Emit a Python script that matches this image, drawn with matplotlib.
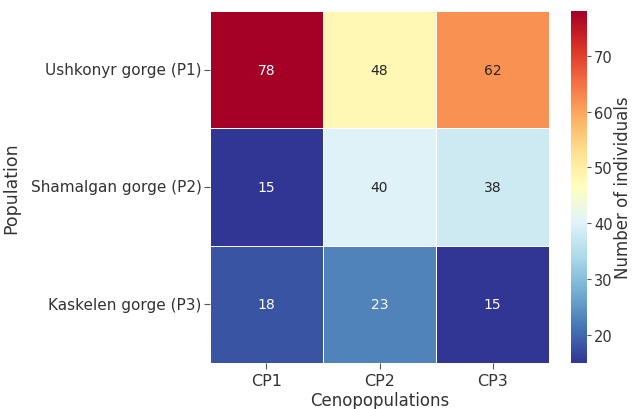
import numpy as np
import matplotlib
matplotlib.use("Agg")
import matplotlib.pyplot as plt
import seaborn as sns

populations = ["Ushkonyr gorge (P1)", "Shamalgan gorge (P2)", "Kaskelen gorge (P3)"]
cenopopulations = ["CP1", "CP2", "CP3"]
p1_counts = [78, 48, 62]
p2_counts = [15, 40, 38]
p3_counts = [18, 23, 15]

counts = np.array([p1_counts, p2_counts, p3_counts])

plt.rcParams['font.family'] = ['DejaVu Sans']

fig = plt.figure(figsize=(6.32, 4.10), dpi=100)
ax = fig.add_axes([0.332, 0.112, 0.537, 0.859])
cax = fig.add_axes([0.9035, 0.112, 0.0255, 0.859])

sns.heatmap(counts, ax=ax, cbar_ax=cax, cmap="RdYlBu_r", annot=True, fmt="d",
            linewidths=0.6, linecolor="white",
            annot_kws={"fontsize": 10},
            xticklabels=cenopopulations, yticklabels=populations,
            cbar_kws={"label": "Number of individuals"})

ax.set_xlabel("Cenopopulations", fontsize=12, color="#333333")
ax.set_ylabel("Population", fontsize=12.5, color="#333333")
ax.yaxis.set_label_coords(-0.56, 0.5)
ax.tick_params(axis="x", labelsize=11.5, labelcolor="#333333", length=4, color="#555555")
ax.tick_params(axis="y", labelsize=11, labelcolor="#333333", length=4, pad=2,
               color="#555555", rotation=0)
ax.xaxis.labelpad = 2

# colorbar ticks and label
cax.tick_params(labelsize=10.5, labelcolor="#333333", length=3, pad=2, color="#555555")
cax.set_ylabel("Number of individuals", fontsize=12, color="#333333")
cax.yaxis.set_label_coords(2.65, 0.5)

fig.savefig("out.png", dpi=100)
